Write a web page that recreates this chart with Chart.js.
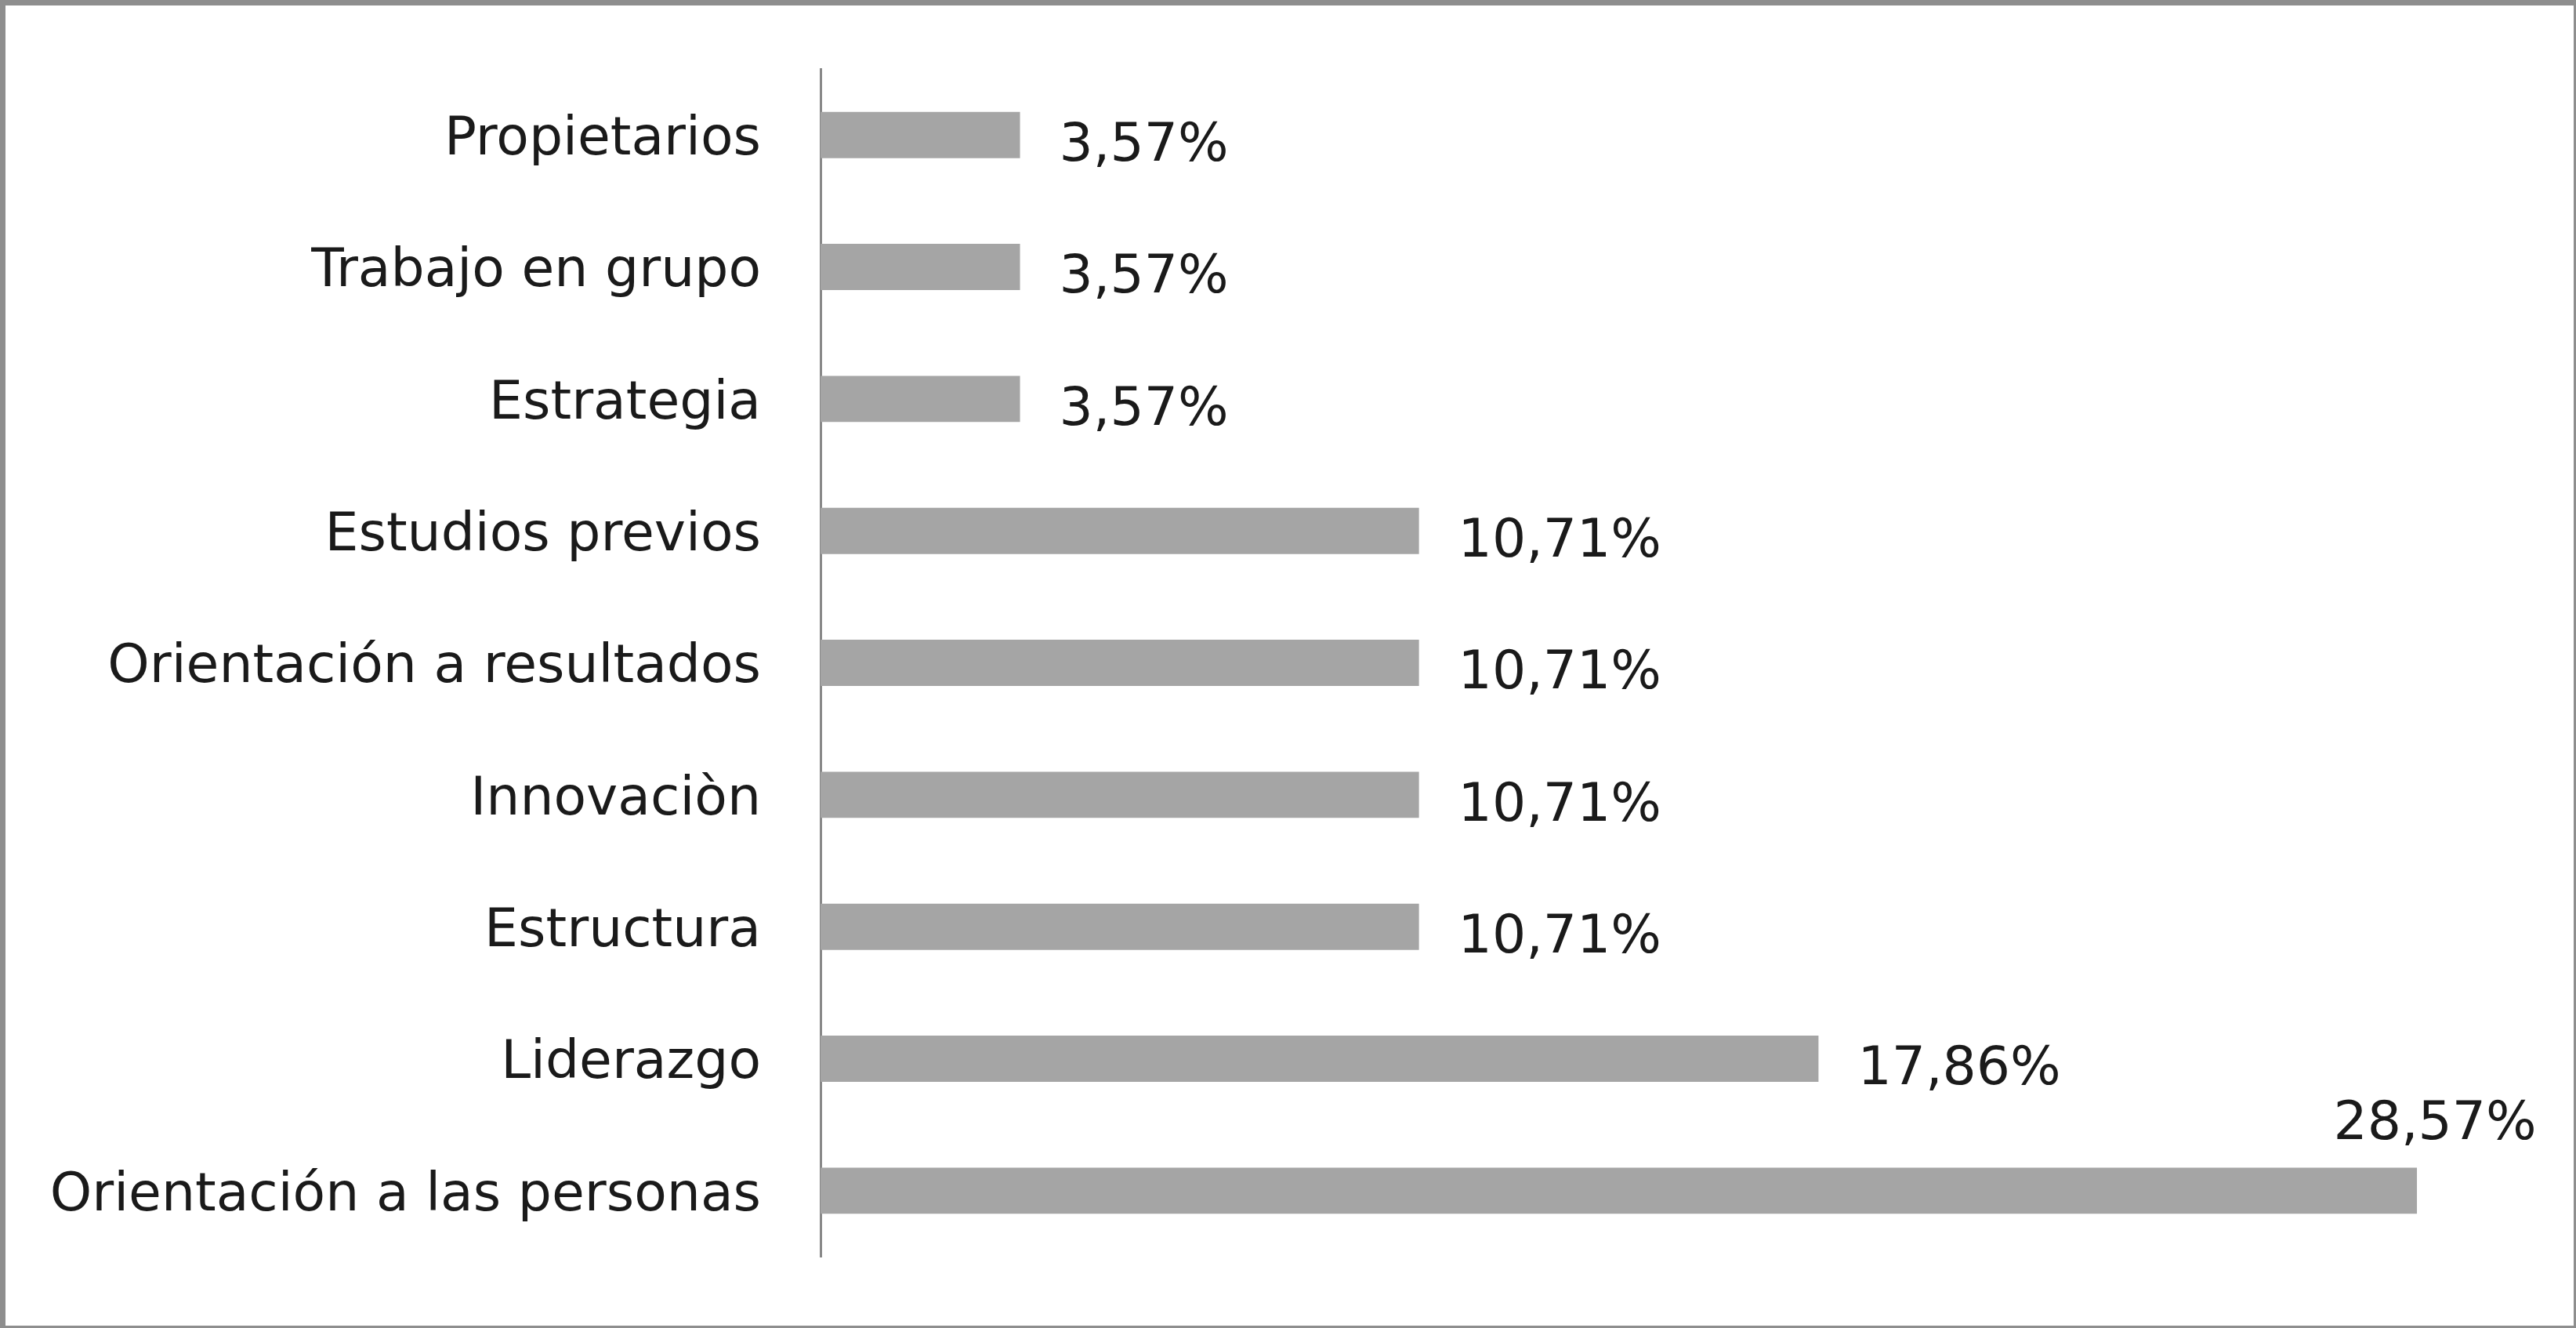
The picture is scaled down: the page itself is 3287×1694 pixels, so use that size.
<!DOCTYPE html>
<html>
<head>
<meta charset="utf-8">
<script src="https://cdn.jsdelivr.net/npm/chart.js@4/dist/chart.umd.min.js"></script>
<style>
  html, body { margin: 0; padding: 0; background: #ffffff; }
  #box {
    width: 3287px; height: 1694px; box-sizing: border-box;
    border-style: solid; border-color: #8e8e8e;
    border-width: 7px 3px 3px 7px;
    background: #ffffff;
  }
  #wrap { position: relative; width: 3277px; height: 1684px; }
</style>
</head>
<body>
<div id="box"><div id="wrap"><canvas id="chart"></canvas></div></div>
<script>
//categories, top to bottom
const categories = [
  "Propietarios",
  "Trabajo en grupo",
  "Estrategia",
  "Estudios previos",
  "Orientación a resultados",
  "Innovaciòn",
  "Estructura",
  "Liderazgo",
  "Orientación a las personas",
];
//percentages
const values = [3.57, 3.57, 3.57, 10.71, 10.71, 10.71, 10.71, 17.86, 28.57];
//axis range
const axisMin = 0;
const axisMax = 30;

const FONT = "'DejaVu Sans', Verdana, sans-serif";
const TEXT = "#1a1a1a";

//format like the spanish label: 3,57%
const fmt = (v) => v.toFixed(2).replace(".", ",") + "%";

//plugin that writes the value next to each bar
const valueLabels = {
  id: "valueLabels",
  afterDatasetsDraw(chart) {
    const ctx = chart.ctx;
    const meta = chart.getDatasetMeta(0);
    ctx.save();
    ctx.font = "68px " + FONT;
    ctx.fillStyle = TEXT;
    ctx.textBaseline = "middle";
    ctx.textAlign = "left";
    meta.data.forEach((bar, i) => {
      const text = fmt(values[i]);
      const w = ctx.measureText(text).width;
      let x = bar.x + 50;
      let y = bar.y + 15;
      //no room on the right: put it above the bar end
      if (x + w > chart.width - 10) {
        x = bar.x + 23 - w / 2;
        y = bar.y - 84;
      }
      ctx.fillText(text, x, y);
    });
    ctx.restore();
  },
};

new Chart(document.getElementById("chart"), {
  type: "bar",
  plugins: [valueLabels],
  data: {
    labels: categories,
    datasets: [
      {
        data: values,
        backgroundColor: "#a5a5a5",
        borderWidth: 0,
        categoryPercentage: 1,
        barPercentage: 0.35,
      },
    ],
  },
  options: {
    indexAxis: "y",
    responsive: true,
    maintainAspectRatio: false,
    animation: false,
    layout: { padding: { left: 0, top: 81, right: 98, bottom: 88 } },
    plugins: {
      legend: { display: false },
      tooltip: { enabled: false },
    },
    scales: {
      x: {
        display: false,
        min: axisMin,
        max: axisMax,
      },
      y: {
        afterFit: (scale) => {
          scale.width = 1040;
          scale.paddingTop = 0;
          scale.paddingBottom = 0;
        },
        grid: { display: false, drawTicks: false },
        border: { display: true, color: "#888888", width: 3 },
        ticks: {
          padding: 76,
          labelOffset: 7,
          color: TEXT,
          font: { family: FONT, size: 68 },
        },
      },
    },
  },
});
</script>
</body>
</html>
